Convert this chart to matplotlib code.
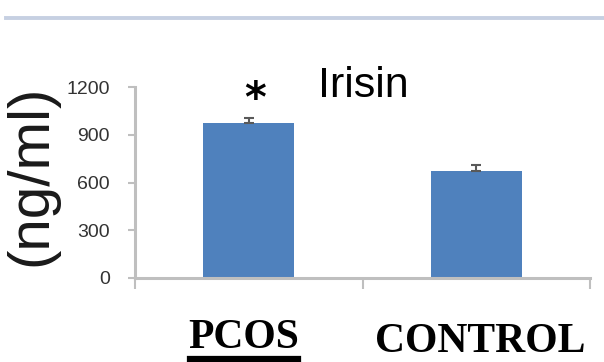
import matplotlib.pyplot as plt
from matplotlib.lines import Line2D

groups = ["PCOS", "CONTROL"]
irisin = [975, 672]
irisin_err = [32, 35]
yticks = [0, 300, 600, 900, 1200]

W, H = 604, 362
fig = plt.figure(figsize=(W / 100, H / 100), dpi=100)


def fx(px):
    return px / W


def fy(py):
    return 1 - py / H


ax = fig.add_axes([fx(135), fy(278), fx(590) - fx(135), fy(87) - fy(278)])

bar_color = "#4f81bd"
axis_grey = "#bfbfbf"
pos = [0.5, 1.5]
ax.bar(pos, irisin, width=0.4, color=bar_color, zorder=2)
ax.errorbar(pos, irisin, yerr=[[0, 0], irisin_err], fmt="none",
            ecolor="#595959", elinewidth=1.5, capsize=3.5, capthick=1.5, zorder=3)

ax.set_xlim(0, 2)
ax.set_ylim(0, 1200)
ax.set_yticks(yticks)
ax.set_yticklabels([str(v) for v in yticks], family="Liberation Sans",
                   fontsize=14, color="#333333")
ax.set_xticks([0, 1, 2])
ax.set_xticklabels([])
ax.tick_params(axis="y", length=5, width=1.5, color=axis_grey, pad=13)
ax.tick_params(axis="x", length=8, width=1.5, color=axis_grey)
for side in ["top", "right"]:
    ax.spines[side].set_visible(False)
for side in ["left", "bottom"]:
    ax.spines[side].set_color(axis_grey)
    ax.spines[side].set_linewidth(2.2)

# significance star over PCOS
ax.text(0.53, 1120, "*", ha="center", va="center", fontsize=30,
        fontweight="bold", family="DejaVu Sans", color="black")

fig.text(fx(363), fy(97), "Irisin", ha="center", va="baseline",
         family="Liberation Sans", fontsize=31, color="black")

fig.text(fx(31), fy(175), "(ng/ml)", rotation=90, ha="center", va="center",
         family="Liberation Sans", fontsize=42, color="#1a1a1a")

fig.text(fx(243.5), fy(348), "PCOS", ha="center", va="baseline",
         family="Liberation Serif", fontweight="bold", fontsize=30,
         color="black")
fig.text(fx(480), fy(352), "CONTROL", ha="center", va="baseline",
         family="Liberation Serif", fontweight="bold", fontsize=30,
         color="black")

# underline under PCOS and the rule along the top
fig.add_artist(Line2D([fx(190), fx(298)], [fy(359), fy(359)],
                      color="black", linewidth=4.5))
fig.add_artist(Line2D([fx(6), fx(604)], [fy(17.5), fy(17.5)],
                      color="#c6d0e2", linewidth=2.8))

fig.savefig("out.png", dpi=100)
